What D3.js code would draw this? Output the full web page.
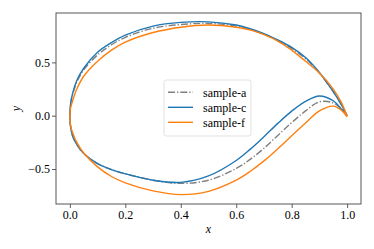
<!DOCTYPE html>
<html><head><meta charset="utf-8">
<script src="https://cdn.jsdelivr.net/npm/d3@7"></script>
<style>body{margin:0;background:#fff}svg{display:block}text{font-family:"Liberation Serif","DejaVu Serif",serif}</style>
</head><body><svg id="c" width="374" height="249"></svg>
<script>
const stations = [0, 0.0025, 0.01, 0.025, 0.05, 0.1, 0.15, 0.2, 0.3, 0.4, 0.5, 0.6, 0.65, 0.7, 0.75, 0.8, 0.85, 0.9, 0.95, 0.98, 1.0];
const seriesNames = ["sample-a", "sample-c", "sample-f"];
const upperA = [0, 0.105, 0.20, 0.315, 0.43, 0.57, 0.665, 0.735, 0.82, 0.855, 0.865, 0.84, 0.805, 0.765, 0.705, 0.63, 0.535, 0.40, 0.225, 0.10, 0];
const lowerA = [0, -0.10, -0.19, -0.27, -0.355, -0.45, -0.505, -0.545, -0.605, -0.635, -0.605, -0.495, -0.41, -0.305, -0.185, -0.065, 0.045, 0.13, 0.12, 0.06, 0];
const upperC = [0, 0.11, 0.21, 0.33, 0.445, 0.595, 0.685, 0.755, 0.84, 0.875, 0.88, 0.85, 0.815, 0.77, 0.71, 0.64, 0.545, 0.405, 0.225, 0.10, 0];
const lowerC = [0, -0.10, -0.19, -0.27, -0.355, -0.45, -0.505, -0.545, -0.605, -0.625, -0.565, -0.42, -0.316, -0.197, -0.072, 0.043, 0.135, 0.185, 0.14, 0.06, 0];
const upperF = [0, 0.07, 0.14, 0.25, 0.37, 0.51, 0.615, 0.69, 0.78, 0.83, 0.85, 0.83, 0.805, 0.76, 0.70, 0.615, 0.51, 0.40, 0.25, 0.12, -0.01];
const lowerF = [0, -0.09, -0.16, -0.25, -0.35, -0.48, -0.57, -0.63, -0.705, -0.74, -0.709, -0.604, -0.523, -0.424, -0.31, -0.189, -0.069, 0.045, 0.09, 0.05, -0.01];
const xTicks = [0.0, 0.2, 0.4, 0.6, 0.8, 1.0];
const yTicks = [-0.5, 0.0, 0.5];

const svg = d3.select("#c");
const L = 56, R = 361, T = 13, B = 204;
const x = d3.scaleLinear().domain([-0.05, 1.05]).range([L, R]);
const y = d3.scaleLinear().domain([-0.828, 0.963]).range([B, T]);

const series = [
  {name: seriesNames[0], up: upperA, lo: lowerA, color: "#808080", dash: "7,2,1.3,2"},
  {name: seriesNames[1], up: upperC, lo: lowerC, color: "#1f77b4", dash: null},
  {name: seriesNames[2], up: upperF, lo: lowerF, color: "#ff7f0e", dash: null}
];
const line = d3.line().x(d => x(d[0])).y(d => y(d[1])).curve(d3.curveCatmullRom.alpha(0.5));
svg.append("clipPath").attr("id","clp").append("rect").attr("x",L).attr("y",T).attr("width",R-L).attr("height",B-T);
const g = svg.append("g").attr("clip-path","url(#clp)");
series.forEach(s => {
  const pts = [];
  for (let i = stations.length - 1; i >= 0; i--) pts.push([stations[i], s.up[i]]);
  for (let i = 1; i < stations.length; i++) pts.push([stations[i], s.lo[i]]);
  g.append("path").attr("d", line(pts)).attr("fill","none").attr("stroke", s.color)
    .attr("stroke-width", 1.4).attr("stroke-dasharray", s.dash);
});

// axes
const xa = svg.append("g").attr("transform",`translate(0,${B})`).call(d3.axisBottom(x).tickValues(xTicks).tickFormat(d3.format(".1f")).tickSizeOuter(0).tickSize(4));
const ya = svg.append("g").attr("transform",`translate(${L},0)`).call(d3.axisLeft(y).tickValues(yTicks).tickFormat(d => d < 0 ? "\u2212" + Math.abs(d).toFixed(1) : d.toFixed(1)).tickSizeOuter(0).tickSize(4));
[xa, ya].forEach(a => {
  a.select(".domain").remove();
  a.selectAll("line").attr("stroke","#333").attr("stroke-width",0.8);
  a.selectAll("text").attr("fill","#000").style("font-size","12px").style("font-family","Liberation Serif");
});
xa.selectAll("text").attr("dy","0.75em").attr("y",6);
ya.selectAll("text").attr("x",-6);
svg.append("rect").attr("x",L).attr("y",T).attr("width",R-L).attr("height",B-T).attr("fill","none").attr("stroke","#444").attr("stroke-width",0.9);

svg.append("text").attr("x",(L+R)/2).attr("y",233).attr("text-anchor","middle").style("font-size","12px").style("font-style","italic").text("x");
svg.append("text").attr("transform",`translate(20,${(T+B)/2}) rotate(-90)`).attr("text-anchor","middle").style("font-size","12px").style("font-style","italic").text("y");

// legend
const lg = svg.append("g");
lg.append("rect").attr("x",164).attr("y",80).attr("width",87).attr("height",56).attr("rx",2.5)
  .attr("fill","#fff").attr("fill-opacity",0.8).attr("stroke","#d9d9d9").attr("stroke-width",0.8);
series.forEach((s, i) => {
  const yy = 92.3 + i * 15;
  lg.append("line").attr("x1",168).attr("x2",193).attr("y1",yy).attr("y2",yy).attr("stroke",s.color).attr("stroke-width",1.4).attr("stroke-dasharray", s.dash);
  lg.append("text").attr("x",203).attr("y",yy).attr("dy","0.35em").style("font-size","12px").text(s.name);
});
</script></body></html>
